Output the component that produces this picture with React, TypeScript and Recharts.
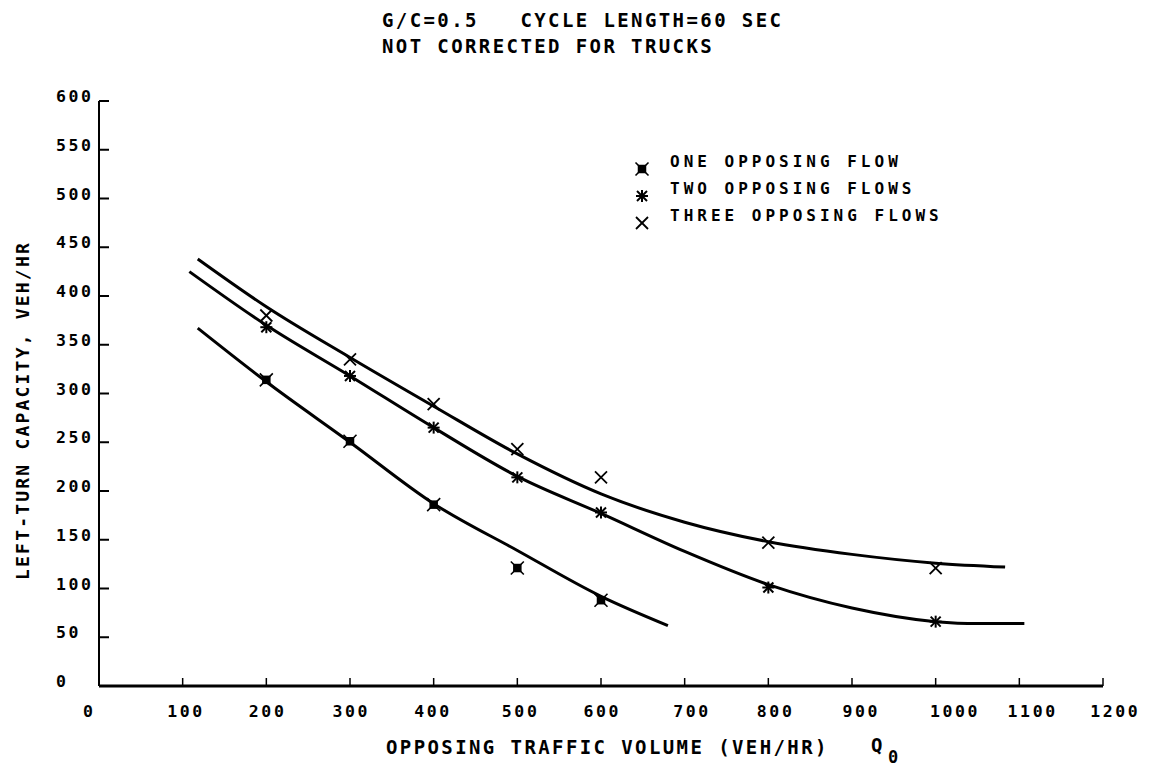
import React from 'react';
import { ComposedChart, Line, Scatter, XAxis, YAxis, Legend, Label } from 'recharts';

const FONT = '"DejaVu Sans Mono", monospace';

const xTicks = [0, 100, 200, 300, 400, 500, 600, 700, 800, 900, 1000, 1100, 1200];
const yTicks = [0, 50, 100, 150, 200, 250, 300, 350, 400, 450, 500, 550, 600];
// small horizontal shifts of the hand-lettered x tick labels
const xTickShift = [-11, 2, 0, 0, -2, 2, 0, 6, 6, 8, 18, 12, 11];

// observed points
const oneX = [200, 300, 400, 500, 600];
const oneY = [314, 251, 186, 121, 88];
const twoX = [200, 300, 400, 500, 600, 800, 1000];
const twoY = [368, 318, 265, 214, 178, 101, 66];
const threeX = [200, 300, 400, 500, 600, 800, 1000];
const threeY = [380, 335, 289, 243, 214, 147, 121];

// fitted curves
const curveOneX = [118, 200, 300, 400, 500, 600, 680];
const curveOneY = [367, 312, 250, 187, 139, 92, 62];
const curveTwoX = [108, 200, 300, 400, 500, 600, 700, 800, 900, 1000, 1050, 1106];
const curveTwoY = [425, 370, 318, 265, 215, 177, 138, 104, 80, 66, 64, 64];
const curveThreeX = [118, 200, 300, 400, 500, 600, 700, 800, 900, 1000, 1083];
const curveThreeY = [438, 389, 337, 287, 238, 197, 168, 148, 135, 126, 122];

const seriesNames = ['ONE OPPOSING FLOW', 'TWO OPPOSING FLOWS', 'THREE OPPOSING FLOWS'];

const toPts = (xs: number[], ys: number[]) => xs.map((x, i) => ({ x, y: ys[i] }));

const SquareMark = ({ cx, cy }: any) => (
  <g>
    <rect x={cx - 3.5} y={cy - 3.5} width={7} height={7} fill="#000" stroke="#000" strokeWidth={1.5} />
    <line x1={cx - 6.5} y1={cy - 6.5} x2={cx + 6.5} y2={cy + 6.5} stroke="#000" strokeWidth={1.6} />
    <line x1={cx - 6.5} y1={cy + 6.5} x2={cx + 6.5} y2={cy - 6.5} stroke="#000" strokeWidth={1.6} />
  </g>
);

const StarMark = ({ cx, cy }: any) => (
  <g stroke="#000" strokeWidth={2}>
    <line x1={cx - 6} y1={cy} x2={cx + 6} y2={cy} />
    <line x1={cx} y1={cy - 6} x2={cx} y2={cy + 6} />
    <line x1={cx - 5} y1={cy - 5} x2={cx + 5} y2={cy + 5} />
    <line x1={cx - 5} y1={cy + 5} x2={cx + 5} y2={cy - 5} />
  </g>
);

const XMark = ({ cx, cy }: any) => (
  <g stroke="#000" strokeWidth={1.8}>
    <line x1={cx - 6} y1={cy - 6} x2={cx + 6} y2={cy + 6} />
    <line x1={cx - 6} y1={cy + 6} x2={cx + 6} y2={cy - 6} />
  </g>
);

const marks = [SquareMark, StarMark, XMark];

const YTick = (props: any) => {
  const { x, y, payload } = props;
  return (
    <g>
      <line x1={x} y1={y} x2={x + 10} y2={y} stroke="#000" strokeWidth={2} />
      <text x={x - 43} y={y + 1} fontFamily={FONT} fontSize={16.5} fontWeight="bold" letterSpacing={2.6} fill="#000">
        {payload.value}
      </text>
    </g>
  );
};

const XTick = (props: any) => {
  const { x, y, payload, index } = props;
  const i = xTicks.indexOf(payload.value);
  const dx = i >= 0 ? xTickShift[i] : 0;
  return (
    <g key={index}>
      <line x1={x} y1={y} x2={x} y2={y - 8} stroke="#000" strokeWidth={1.5} />
      <text x={x + dx + 1.3} y={y + 30.5} textAnchor="middle" fontFamily={FONT} fontSize={16.5} fontWeight="bold" letterSpacing={2.6} fill="#000">
        {payload.value}
      </text>
    </g>
  );
};

const LegendContent = () => (
  <svg width={360} height={100}>
    {seriesNames.map((n, i) => {
      const M = marks[i];
      return (
        <g key={n}>
          <M cx={12} cy={27 + i * 27} />
          <text x={40} y={25 + i * 27} fontFamily={FONT} fontSize={16} fontWeight="bold" letterSpacing={4} fill="#000">
            {n}
          </text>
        </g>
      );
    })}
  </svg>
);

export default function App() {
  return (
    <div style={{ position: 'absolute', left: 0, top: 0, width: 1156, height: 773, background: '#fff' }}>
      <svg width={1156} height={773} style={{ position: 'absolute', left: 0, top: 0 }}>
        <text x={382} y={27} fontFamily={FONT} fontSize={19} fontWeight="bold" letterSpacing={2.4} fill="#000" style={{ whiteSpace: 'pre' }}>
          {'G/C=0.5   CYCLE LENGTH=60 SEC'}
        </text>
        <text x={382} y={53} fontFamily={FONT} fontSize={19} fontWeight="bold" letterSpacing={2.4} fill="#000">
          NOT CORRECTED FOR TRUCKS
        </text>
      </svg>
      <div style={{ position: 'absolute', left: 0, top: 0 }}>
        <ComposedChart width={1156} height={773} margin={{ top: 101, right: 53, bottom: 0, left: 0 }}>
          <XAxis
            type="number"
            dataKey="x"
            domain={[0, 1200]}
            ticks={xTicks}
            interval={0}
            height={87}
            tickSize={0}
            tickMargin={0}
            tickLine={false}
            tick={<XTick />}
            axisLine={{ stroke: '#000', strokeWidth: 3 }}
            allowDataOverflow
          >
            <Label
              content={() => (
                <g>
                  <text x={386} y={754} fontFamily={FONT} fontSize={19} fontWeight="bold" letterSpacing={2.4} fill="#000">
                    OPPOSING TRAFFIC VOLUME (VEH/HR)
                  </text>
                  <text x={871} y={752} fontFamily={FONT} fontSize={19} fontWeight="bold" fill="#000">Q</text>
                  <text x={888} y={763} fontFamily={FONT} fontSize={17} fontWeight="bold" fill="#000">0</text>
                </g>
              )}
            />
          </XAxis>
          <YAxis
            type="number"
            dataKey="y"
            domain={[0, 600]}
            ticks={yTicks}
            interval={0}
            width={99}
            tickSize={0}
            tickMargin={0}
            tickLine={false}
            tick={<YTick />}
            axisLine={{ stroke: '#000', strokeWidth: 2 }}
          >
            <Label
              content={(p: any) => {
                const vb = p.viewBox || { y: 101, height: 585 };
                const cy = vb.y + vb.height / 2 + 17;
                return (
                  <text
                    x={29}
                    y={cy}
                    transform={`rotate(-90 29 ${cy})`}
                    textAnchor="middle"
                    fontFamily={FONT}
                    fontSize={18}
                    fontWeight="bold"
                    letterSpacing={2.2}
                    fill="#000"
                  >
                    LEFT-TURN CAPACITY, VEH/HR
                  </text>
                );
              }}
            />
          </YAxis>
          <Legend
            layout="horizontal"
            verticalAlign="middle"
            align="center"
            content={<LegendContent />}
            wrapperStyle={{ position: 'absolute', left: 630, top: 142, width: 360, height: 100 }}
          />
          <Line data={toPts(curveOneX, curveOneY)} dataKey="y" type="monotone" stroke="#000" strokeWidth={3} dot={false} activeDot={false} isAnimationActive={false} legendType="none" />
          <Line data={toPts(curveTwoX, curveTwoY)} dataKey="y" type="monotone" stroke="#000" strokeWidth={3} dot={false} activeDot={false} isAnimationActive={false} legendType="none" />
          <Line data={toPts(curveThreeX, curveThreeY)} dataKey="y" type="monotone" stroke="#000" strokeWidth={3} dot={false} activeDot={false} isAnimationActive={false} legendType="none" />
          <Scatter name={seriesNames[0]} data={toPts(oneX, oneY)} dataKey="y" shape={<SquareMark />} isAnimationActive={false} />
          <Scatter name={seriesNames[1]} data={toPts(twoX, twoY)} dataKey="y" shape={<StarMark />} isAnimationActive={false} />
          <Scatter name={seriesNames[2]} data={toPts(threeX, threeY)} dataKey="y" shape={<XMark />} isAnimationActive={false} />
        </ComposedChart>
      </div>
    </div>
  );
}
